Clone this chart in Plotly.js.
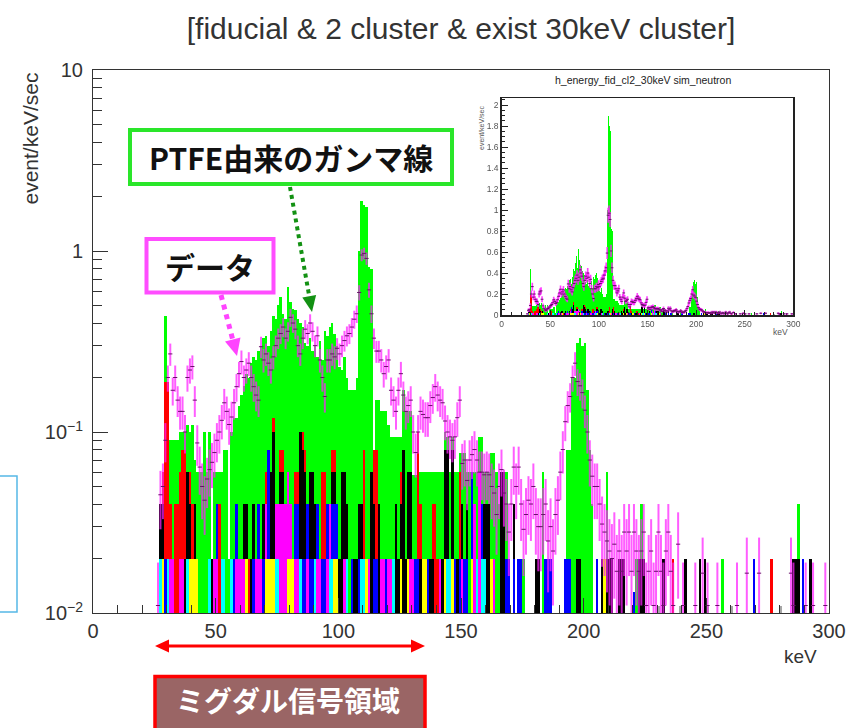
<!DOCTYPE html>
<html>
<head>
<meta charset="utf-8">
<script src="https://cdn.plot.ly/plotly-3.0.1.min.js"></script>
<style>
  html, body { margin: 0; padding: 0; background: #ffffff; }
  #chart { width: 846px; height: 728px; }
</style>
</head>
<body>
<div id="chart"></div>
<script>
// ---------------------------------------------------------------
// Energy spectrum: fiducial, 2 clusters, with a 30 keV cluster
// 1 keV bins; every key below is the lower edge of its bin (keV)
// ---------------------------------------------------------------
const BIN_WIDTH = 1;

// Simulated components (event/keV/sec), stacked bottom -> top
const simGray = {230:.011,239:.011,250:.011,260:.011,280:.011};
const simCyan = {27:.02,30:.02,38:.02,47:.02,52:.02,53:.02,56:.02,74:.02,75:.02,84:.02,90:.02,
  96:.02,97:.02,103:.02,109:.02,110:.02,122:.02,144:.02,145:.02,156:.02,158:.02,159:.02};
const simYellow = {28:.02,39:.02,40:.02,41:.02,42:.02,62:.02,70:.02,71:.02,72:.02,73:.02,79:.02,
  80:.02,81:.02,98:.02,99:.02,111:.02,125:.02,128:.02,134:.02,135:.02,143:.02,146:.02,154:.02,
  162:.02,208:.02};
const simMagenta = {31:.02,32:.02,35:.02,36:.02,49:.02,50:.02,58:.02,59:.02,60:.02,61:.02,66:.02,
  67:.02,68:.02,70:.02,74:.02,75:.02,76:.04,77:.04,78:.04,79:.04,80:.02,82:.02,83:.02,87:.02,
  91:.02,92:.02,95:.02,96:.02,102:.02,112:.02,117:.02,118:.02,120:.02,121:.02,129:.02,130:.02,
  141:.02,150:.02,155:.04,157:.06,163:.02};
const simBlue = {29:.02,50:.02,57:.02,58:.02,65:.02,67:.02,69:.02,71:.06,82:.02,83:.02,85:.02,
  86:.02,87:.02,88:.02,89:.02,91:.02,93:.02,94:.02,95:.02,97:.02,98:.02,99:.02,105:.02,108:.02,
  114:.02,115:.02,119:.02,131:.02,132:.02,136:.02,147:.02,149:.02,151:.02,152:.02,154:.04,
  158:.02,168:.02,169:.02,171:.02,173:.02,174:.02,184:.02,185:.02,186:.02,192:.02,193:.02,
  194:.02,205:.02,220:.013,269:.02,289:.02};
const simBlack = {27:.02,28:.02,37:.02,38:.04,39:.02,41:.02,48:.02,61:.02,62:.02,64:.02,65:.02,
  69:.02,72:.04,73:.08,76:.02,77:.02,84:.08,85:.06,86:.04,88:.04,89:.04,90:.02,97:.02,98:.02,
  100:.02,101:.06,102:.04,103:.02,106:.02,107:.02,108:.02,109:.02,113:.06,114:.02,116:.04,
  123:.04,124:.02,125:.02,126:.08,127:.02,128:.04,129:.04,133:.02,137:.02,138:.02,142:.02,
  143:.06,144:.06,146:.06,148:.02,150:.02,152:.02,159:.02,160:.04,161:.04,166:.06,167:.06,
  171:.02,180:.02,181:.02,197:.02,198:.02,207:.02,209:.02,210:.02,211:.02,214:.02,215:.02,
  216:.02,222:.02,223:.02,224:.02,232:.02,241:.02,247:.02,249:.02,285:.02,286:.02,287:.02,292:.02};
const simRed = {28:.02,29:.17,30:.17,31:.02,33:.04,34:.04,35:.04,36:.06,37:.06,39:.02,40:.02,
  51:.04,63:.02,70:.02,73:.02,76:.02,77:.02,82:.02,83:.02,85:.02,86:.02,93:.04,94:.04,97:.02,
  98:.02,110:.06,114:.04,115:.06,125:.02,132:.08,133:.02,138:.02,139:.04,140:.02,149:.04,
  236:.02,276:.02};

// Top of the stack (all components); the part above the other layers is the green PTFE gamma
const stackTop = {27:.04,28:.06,29:.44,30:.19,31:.09,32:.09,33:.09,34:.09,35:.1,36:.1,
  37:.1,38:.11,39:.1,40:.11,41:.07,42:.06,43:.06,44:.06,45:.1,46:.06,
  47:.1,48:.02,49:.06,50:.06,51:.06,52:.06,53:.08,54:.08,55:.02,56:.1,
  57:.12,58:.12,59:.14,60:.16,61:.18,62:.21,63:.2,64:.24,65:.26,66:.25,
  67:.28,68:.3,69:.33,70:.34,71:.3,72:.36,73:.44,74:.42,75:.5,76:.56,
  77:.45,78:.42,79:.63,80:.52,81:.48,82:.47,83:.42,84:.4,85:.38,86:.31,
  87:.3,88:.33,89:.28,90:.3,91:.26,92:.32,93:.25,94:.36,95:.34,96:.38,
  97:.4,98:.35,99:.3,100:.23,101:.22,102:.26,103:.2,104:.17,105:.17,106:.17,
  107:.2,108:1.0,109:1.9,110:1.8,111:1.75,112:.82,113:.8,114:.08,115:.15,116:.15,
  117:.13,118:.13,119:.13,120:.11,121:.094,122:.094,123:.094,124:.094,125:.094,126:.17,
  127:.13,128:.13,129:.13,130:.058,131:.058,132:.1,133:.06,134:.06,135:.06,136:.06,
  137:.06,138:.06,139:.06,140:.06,141:.06,142:.06,143:.1,144:.094,145:.06,146:.094,
  147:.06,148:.06,149:.077,150:.077,151:.077,152:.06,153:.06,154:.06,155:.06,156:.06,
  157:.094,158:.094,159:.06,160:.06,161:.06,162:.077,163:.077,164:.06,165:.04,166:.06,
  167:.06,168:.06,169:.02,171:.04,173:.02,174:.02,175:.02,180:.02,181:.02,183:.06,
  184:.02,185:.02,186:.02,192:.02,193:.08,194:.08,195:.2,196:.2,197:.31,198:.33,
  199:.3,200:.31,201:.17,202:.08,203:.04,205:.02,207:.02,208:.02,209:.06,210:.02,
  211:.02,214:.02,215:.02,216:.02,220:.013,221:.02,222:.02,223:.04,224:.02,230:.011,
  232:.02,236:.02,239:.011,241:.02,247:.02,249:.02,250:.011,256:.02,260:.011,269:.02,
  276:.02,280:.011,285:.02,286:.02,287:.04,289:.02,292:.02};

// Measured data (event/keV/sec) and its errors, one entry per bin from 26 keV
const dataStartKeV = 26;
const dataRate = [
  .011,.045,.05,.09,.2,.27,.17,.2,.15,.13,
  .13,.1,.2,.22,.23,.15,.087,.064,.05,.042,
  .055,.062,.068,.077,.09,.1,.116,.145,.13,.11,
  .121,.145,.178,.21,.245,.2,.22,.24,.2,.178,
  .16,.15,.296,.25,.27,.24,.22,.26,.3,.33,
  .35,.38,.33,.36,.43,.4,.37,.3,.27,.33,
  .37,.35,.4,.36,.3,.34,.25,.2,.157,.25,
  .25,.27,.26,.29,.27,.3,.32,.34,.35,.38,
  .42,.45,.59,.95,.97,.91,.61,.45,.33,.28,
  .28,.25,.21,.23,.25,.17,.15,.13,.17,.21,
  .16,.13,.14,.15,.1,.077,.1,.13,.125,.12,
  .12,.14,.155,.178,.16,.15,.145,.115,.1,.094,
  .09,.094,.12,.15,.067,.07,.054,.07,.075,.08,
  .07,.06,.06,.058,.06,.058,.05,.046,.035,.05,
  .062,.046,.04,.028,.04,.064,.05,.064,.04,.029,
  .035,.042,.04,.05,.035,.03,.03,.035,.04,.025,
  .03,.022,.035,.042,.06,.08,.114,.14,.157,.2,
  .24,.19,.18,.165,.132,.1,.07,.057,.05,.05,
  .04,.031,.028,.025,.022,.02,.024,.017,.022,.017,
  .028,.022,.028,.017,.028,.022,.017,.022,.028,.011,
  .017,.022,.011,.017,.028,.017,.011,.022,.028,.017,
  .011,null,.024,null,.011,null,null,null,null,.011,
  null,null,.0166,null,.011,null,null,null,.011,null,
  null,null,null,null,null,null,.011,null,null,null,
  .0166,null,null,null,null,.0166,null,null,null,null,
  null,null,null,null,null,null,null,null,.0166,.011,
  null,null,null,null,.011,null,null,.011,null,null,
  null,null,.011,null];
const dataErr = [
  .008,.016,.017,.022,.033,.038,.03,.033,.029,.027,
  .027,.024,.033,.035,.035,.029,.022,.019,.017,.015,
  .017,.018,.019,.021,.022,.024,.025,.028,.027,.025,
  .026,.028,.031,.034,.037,.033,.035,.036,.033,.031,
  .03,.029,.04,.037,.038,.036,.035,.038,.041,.043,
  .044,.046,.043,.044,.049,.047,.045,.041,.038,.043,
  .045,.044,.047,.044,.041,.043,.037,.033,.029,.037,
  .037,.038,.038,.04,.038,.041,.042,.043,.044,.046,
  .048,.05,.057,.072,.073,.071,.058,.05,.043,.039,
  .039,.037,.034,.035,.037,.03,.029,.027,.03,.034,
  .03,.027,.028,.029,.024,.021,.024,.027,.026,.026,
  .026,.028,.029,.031,.03,.029,.028,.025,.024,.023,
  .022,.023,.026,.029,.019,.02,.017,.02,.02,.021,
  .02,.018,.018,.018,.018,.018,.017,.016,.014,.017,
  .018,.016,.015,.012,.015,.019,.017,.019,.015,.013,
  .014,.015,.015,.017,.014,.013,.013,.014,.015,.012,
  .013,.011,.014,.015,.018,.021,.025,.028,.029,.033,
  .036,.032,.031,.03,.027,.024,.02,.018,.017,.017,
  .015,.013,.012,.012,.011,.011,.012,.01,.011,.01,
  .012,.011,.012,.01,.012,.011,.01,.011,.012,.008,
  .01,.011,.008,.01,.012,.01,.008,.011,.012,.01,
  .008,null,.012,null,.008,null,null,null,null,.008,
  null,null,.0095,null,.008,null,null,null,.008,null,
  null,null,null,null,null,null,.008,null,null,null,
  .0095,null,null,null,null,.0095,null,null,null,null,
  null,null,null,null,null,null,null,null,.0095,.008,
  null,null,null,null,.008,null,null,.008,null,null,
  null,null,.008,null];

// Axis ticks
const xTicks = [0, 50, 100, 150, 200, 250, 300];
const xMinorTicks = [10,20,30,40,60,70,80,90,110,120,130,140,160,170,180,190,210,220,230,240,260,270,280,290];
const yTicks = [0.01, 0.1, 1, 10];
const yTickText = ['10<sup>\u22122</sup>', '10<sup>\u22121</sup>', '1', '10'];
const yMinorTicks = [0.02,0.03,0.04,0.05,0.06,0.07,0.08,0.09,0.2,0.3,0.4,0.5,0.6,0.7,0.8,0.9,2,3,4,5,6,7,8,9];

// ---------------------------------------------------------------
const layers = [
  {vals: simGray,    color: '#a6a6a6'},
  {vals: simCyan,    color: '#00ffff'},
  {vals: simYellow,  color: '#ffff00'},
  {vals: simMagenta, color: '#ff00ff'},
  {vals: simBlue,    color: '#0000ff'},
  {vals: simBlack,   color: '#000000'},
  {vals: simRed,     color: '#ff0000'}
];
const GREEN = '#00ff00';
const bins = Object.keys(stackTop).map(Number).sort((a, b) => a - b);

// THStack-like drawing: cumulative sums, drawn from the top layer down
function stackTraces(xa, ya) {
  const cx = layers.map(() => []), cy = layers.map(() => []);
  const gx = [], gy = [];
  bins.forEach(k => {
    let s = 0;
    layers.forEach((L, i) => {
      const v = L.vals[k] || 0;
      s += v;
      if (v > 0) { cx[i].push(k + BIN_WIDTH / 2); cy[i].push(s); }
    });
    if (stackTop[k] > s + 1e-9) { gx.push(k + BIN_WIDTH / 2); gy.push(stackTop[k]); }
  });
  const out = [{type: 'bar', x: gx, y: gy, width: BIN_WIDTH, xaxis: xa, yaxis: ya,
    marker: {color: GREEN, line: {width: 0}}, hoverinfo: 'skip'}];
  for (let i = layers.length - 1; i >= 0; i--) {
    out.push({type: 'bar', x: cx[i], y: cy[i], width: BIN_WIDTH, xaxis: xa, yaxis: ya,
      marker: {color: layers[i].color, line: {width: 0}}, hoverinfo: 'skip'});
  }
  return out;
}

const dX = [], dY = [], dE = [];
dataRate.forEach((v, i) => {
  if (v !== null) { dX.push(dataStartKeV + i + BIN_WIDTH / 2); dY.push(v); dE.push(dataErr[i]); }
});
function dataTrace(xa, ya, thick, msize, errColor) {
  return {type: 'scatter', mode: 'markers', x: dX, y: dY, xaxis: xa, yaxis: ya,
    error_y: {type: 'data', array: dE, visible: true, color: errColor, thickness: thick, width: 0},
    marker: {symbol: 'line-ew-open', size: msize, color: '#6a106a', line: {color: '#6a106a', width: 1}},
    hoverinfo: 'skip'};
}

const traces = [].concat(
  stackTraces('x', 'y'), [dataTrace('x', 'y', 2, 3, 'rgba(255,30,255,0.72)')],
  stackTraces('x2', 'y2'), [dataTrace('x2', 'y2', 1.6, 2, 'rgba(255,30,255,0.85)')]
);

// pixel -> paper helpers for the plot frame (93..829 x 70..613)
const px = X => (X - 93) / 736;
const py = Y => (613 - Y) / 543;

const FONT = 'Liberation Sans, Arial, Helvetica, sans-serif';
const JP = 'Noto Sans CJK JP, sans-serif';

function arrowHead(tip, b1, b2) {
  return 'M' + px(tip[0]) + ',' + py(tip[1]) + ' L' + px(b1[0]) + ',' + py(b1[1]) +
         ' L' + px(b2[0]) + ',' + py(b2[1]) + ' Z';
}

const shapes = [
  // call-out boxes
  {type: 'rect', xref: 'paper', yref: 'paper', x0: px(130), x1: px(452), y0: py(130), y1: py(184),
   line: {color: '#2ae62a', width: 4}, fillcolor: '#ffffff', layer: 'above'},
  {type: 'rect', xref: 'paper', yref: 'paper', x0: px(146.5), x1: px(273.5), y0: py(239), y1: py(292.5),
   line: {color: '#ff4dff', width: 4}, fillcolor: '#ffffff', layer: 'above'},
  {type: 'rect', xref: 'paper', yref: 'paper', x0: px(155), x1: px(425), y0: py(676.5), y1: py(745),
   line: {color: '#ff0000', width: 3.5}, fillcolor: '#9a6565', layer: 'above'},
  // signal-region double arrow
  {type: 'line', xref: 'paper', yref: 'paper', x0: px(166), x1: px(414), y0: py(646), y1: py(646),
   line: {color: '#ff0000', width: 3}},
  {type: 'path', xref: 'paper', yref: 'paper', path: arrowHead([155, 646], [169, 639.5], [169, 652.5]),
   fillcolor: '#ff0000', line: {width: 0}},
  {type: 'path', xref: 'paper', yref: 'paper', path: arrowHead([425, 646], [411, 639.5], [411, 652.5]),
   fillcolor: '#ff0000', line: {width: 0}},
  // dotted pointers
  {type: 'line', xref: 'paper', yref: 'paper', x0: px(290), y0: py(187), x1: px(309.2), y1: py(296),
   line: {color: '#139113', width: 4, dash: 'dot'}, layer: 'above'},
  {type: 'path', xref: 'paper', yref: 'paper', path: arrowHead([312, 312], [316.1, 295], [302.3, 297.4]),
   fillcolor: '#139113', line: {width: 0}, layer: 'above'},
  {type: 'line', xref: 'paper', yref: 'paper', x0: px(221), y0: py(295), x1: px(232.7), y1: py(339.5),
   line: {color: '#ff44ff', width: 5, dash: 'dot'}, layer: 'above'},
  {type: 'path', xref: 'paper', yref: 'paper', path: arrowHead([237, 356], [240.5, 337.5], [225, 341.5]),
   fillcolor: '#ff44ff', line: {width: 0}, layer: 'above'},
  // edge of a neighbouring frame at the far left
  {type: 'rect', xref: 'paper', yref: 'paper', x0: px(-10), x1: px(17), y0: py(476), y1: py(612),
   line: {color: '#56b8e6', width: 1.5}, fillcolor: 'rgba(0,0,0,0)'}
];

const annotations = [
  {xref: 'paper', yref: 'paper', x: px(291), y: py(157), text: 'PTFE由来のガンマ線', showarrow: false,
   xanchor: 'center', yanchor: 'middle', font: {family: JP, size: 30, weight: 700, color: '#111111'}},
  {xref: 'paper', yref: 'paper', x: px(210), y: py(266), text: 'データ', showarrow: false,
   xanchor: 'center', yanchor: 'middle', font: {family: JP, size: 30, weight: 700, color: '#111111'}},
  {xref: 'paper', yref: 'paper', x: px(288), y: py(700), text: 'ミグダル信号領域', showarrow: false,
   xanchor: 'center', yanchor: 'middle', font: {family: JP, size: 28, weight: 700, color: '#ffffff'}},
  // axis titles
  {xref: 'paper', yref: 'paper', x: px(30), y: py(138.5), text: 'event/keV/sec', showarrow: false,
   textangle: -90, xanchor: 'center', yanchor: 'middle', font: {family: FONT, size: 21, color: '#333333'}},
  {xref: 'paper', yref: 'paper', x: px(819), y: py(656), text: 'keV', showarrow: false,
   xanchor: 'right', yanchor: 'middle', font: {family: FONT, size: 19, color: '#333333'}},
  // inset labels
  {xref: 'paper', yref: 'paper', x: px(643), y: py(80), text: 'h_energy_fid_cl2_30keV sim_neutron',
   showarrow: false, xanchor: 'center', yanchor: 'middle', font: {family: FONT, size: 10.5, color: '#222222'}},
  {xref: 'paper', yref: 'paper', x: px(482), y: py(128), text: 'event/keV/sec', showarrow: false,
   textangle: -90, xanchor: 'center', yanchor: 'middle', font: {family: FONT, size: 7, color: '#555555'}},
  {xref: 'paper', yref: 'paper', x: px(790), y: py(332), text: 'keV', showarrow: false,
   xanchor: 'right', yanchor: 'middle', font: {family: FONT, size: 8.5, color: '#555555'}}
];

const layout = {
  width: 846, height: 728,
  margin: {l: 93, r: 17, t: 70, b: 115, pad: 0},
  paper_bgcolor: '#ffffff', plot_bgcolor: '#ffffff',
  showlegend: false, barmode: 'overlay', bargap: 0,
  title: {text: '[fiducial & 2 cluster & exist 30keV cluster]', xref: 'container', yref: 'container',
          x: 0.545, xanchor: 'center', y: 0.961, yanchor: 'middle',
          font: {family: FONT, size: 30, color: '#333333'}},
  xaxis: {domain: [0, 1], anchor: 'y', range: [0, 300], tickmode: 'array', tickvals: xTicks,
          ticks: 'inside', ticklen: 15, tickwidth: 1, tickcolor: '#333333',
          showline: true, linecolor: '#333333', linewidth: 1, mirror: true,
          showgrid: false, zeroline: false, fixedrange: true,
          tickfont: {family: FONT, size: 20, color: '#333333'},
          minor: {tickmode: 'array', tickvals: xMinorTicks, ticks: 'inside', ticklen: 8, tickcolor: '#333333', showgrid: false}},
  yaxis: {domain: [0, 1], anchor: 'x', type: 'log', range: [-2, 1], tickmode: 'array',
          tickvals: yTicks, ticktext: yTickText,
          ticks: 'inside', ticklen: 15, tickwidth: 1, tickcolor: '#333333', ticklabelstandoff: 5,
          showline: true, linecolor: '#333333', linewidth: 1, mirror: true,
          showgrid: false, zeroline: false, fixedrange: true,
          tickfont: {family: FONT, size: 20, color: '#333333'},
          minor: {tickmode: 'array', tickvals: yMinorTicks, ticks: 'inside', ticklen: 9, tickcolor: '#333333', showgrid: false}},
  xaxis2: {domain: [px(501.7), px(793.3)], anchor: 'y2', range: [0, 300], dtick: 50, tick0: 0,
           ticks: 'inside', ticklen: 5, tickcolor: '#222222', showline: true, linecolor: '#222222',
           linewidth: 1.5, mirror: true, showgrid: false, zeroline: false, fixedrange: true,
           tickfont: {family: FONT, size: 8.5, color: '#555555'},
           minor: {dtick: 10, ticks: 'inside', ticklen: 3, tickcolor: '#222222', showgrid: false}},
  yaxis2: {domain: [py(315), py(98.3)], anchor: 'x2', range: [0, 2.064], dtick: 0.2, tick0: 0,
           ticks: 'inside', ticklen: 6, tickcolor: '#222222', showline: true, linecolor: '#222222',
           linewidth: 1.5, mirror: true, showgrid: false, zeroline: false, fixedrange: true,
           tickfont: {family: FONT, size: 8.5, color: '#555555'},
           minor: {dtick: 0.05, ticks: 'inside', ticklen: 3, tickcolor: '#222222', showgrid: false}},
  shapes: shapes,
  annotations: annotations
};

Plotly.newPlot('chart', traces, layout, {displayModeBar: false, staticPlot: true}).then(() => {
  // the small inset panel is rendered soft
  document.querySelectorAll('.subplot.x2y2').forEach(g => { g.style.filter = 'blur(0.5px)'; });
});
</script>
</body>
</html>
